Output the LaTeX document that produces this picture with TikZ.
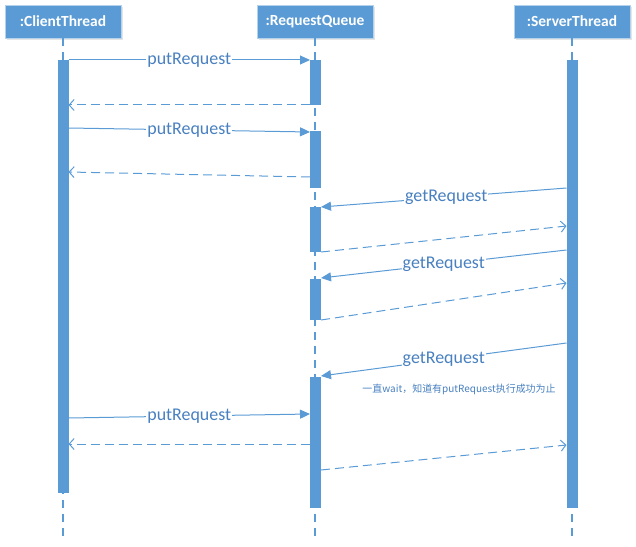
\documentclass[tikz,border=0pt]{standalone}
\usepackage{fontspec}
\setmainfont{Carlito}
\newfontfamily\cjk{Noto Sans CJK SC}
\usetikzlibrary{arrows.meta,positioning,shadows,calc}
\definecolor{qblue}{RGB}{91,155,213}
\definecolor{qtext}{RGB}{72,128,192}
\tikzset{
  obj/.style={draw=qblue!45, fill=qblue, text=white, font=\bfseries\fontsize{15.5}{17}\selectfont,
    minimum width=116bp, minimum height=33bp, inner sep=0pt,
    drop shadow={shadow xshift=2bp, shadow yshift=-2bp, opacity=0.25, fill=black!40}},
  act/.style={fill=qblue, draw=none, minimum width=11bp, inner sep=0pt},
  life/.style={draw=qblue, line width=1.2bp, dash pattern=on 8bp off 6bp},
  msg/.style={draw=qblue, line width=1bp, -{Triangle[length=10bp,width=9bp]}},
  ret/.style={draw=qblue, line width=1bp, dash pattern=on 9bp off 5bp,
    -{Straight Barb[length=5bp,width=11bp]}},
  mlbl/.style={fill=white, inner sep=1bp, text=qtext, font=\fontsize{18}{20}\selectfont},
  note/.style={text=qtext, font=\cjk\fontsize{10}{12}\selectfont, inner sep=0pt}
}

\begin{document}
\begin{tikzpicture}[x=1bp, y=-1bp]
    \useasboundingbox (0,0) rectangle (636,547);

    % objects
    \node[obj] (ct) at (63,21.5) {:ClientThread};
    \node[obj] (rq) at (315,21.5) {:RequestQueue};
    \node[obj] (st) at (572,21.5) {:ServerThread};

    % lifelines
    \coordinate (ctend) at (63,542);
    \coordinate (rqend) at (315,542);
    \coordinate (stend) at (572,542);
    \draw[life] (ct.south) -- (ctend);
    \draw[life] (rq.south) -- (rqend);
    \draw[life] (st.south) -- (stend);

    % activations
    \node[act, minimum height=433bp] (ca) at (63,276.5) {};
    \node[act, minimum height=448bp] (sa) at (572,284) {};
    \node[act, minimum height=45bp] (rq1) at (315.5,82.5) {};
    \node[act, minimum height=57bp] (rq2) at (315.5,159.5) {};
    \node[act, minimum height=45bp] (rq3) at (315.5,229.5) {};
    \node[act, minimum height=41bp] (rq4) at (315.5,299.5) {};
    \node[act, minimum height=131bp] (rq5) at (315.5,442.5) {};

    % message ends
    \coordinate (c1) at (68.5,60);    \coordinate (q1) at (310,60);
    \coordinate (q1r) at (310,105);   \coordinate (c1r) at (68.5,105);
    \coordinate (c2) at (68.5,128);   \coordinate (q2) at (310,132);
    \coordinate (q2r) at (310,177);   \coordinate (c2r) at (68.5,172);
    \coordinate (s3) at (566.5,188);  \coordinate (q3) at (321,207);
    \coordinate (q3r) at (321,252);   \coordinate (s3r) at (566.5,226);
    \coordinate (s4) at (566.5,250);  \coordinate (q4) at (321,278);
    \coordinate (q4r) at (321,320);   \coordinate (s4r) at (566.5,283);
    \coordinate (s5) at (566.5,343);  \coordinate (q5) at (321,376);
    \coordinate (c6) at (68.5,418);   \coordinate (q6) at (310,414);
    \coordinate (q6r) at (310,444);   \coordinate (c6r) at (68.5,444);
    \coordinate (q5r) at (321,470);   \coordinate (s5r) at (566.5,445);

    % messages
    \draw[msg] (c1) -- node[mlbl] (l1) {putRequest} (q1);
    \draw[ret] (q1r) -- (c1r);
    \draw[msg] (c2) -- node[mlbl] (l2) {putRequest} (q2);
    \draw[ret] (q2r) -- (c2r);
    \draw[msg] (s3) -- node[mlbl, pos=0.49] (l3) {getRequest} (q3);
    \draw[ret] (q3r) -- (s3r);
    \draw[msg] (s4) -- node[mlbl, pos=0.5] (l4) {getRequest} (q4);
    \draw[ret] (q4r) -- (s4r);
    \draw[msg] (s5) -- node[mlbl, pos=0.5] (l5) {getRequest} (q5);
    \node[note] (wait) at (459,389) {一直wait，知道有putRequest执行成功为止};
    \draw[msg] (c6) -- node[mlbl] (l6) {putRequest} (q6);
    \draw[ret] (q6r) -- (c6r);
    \draw[ret] (q5r) -- (s5r);
\end{tikzpicture}
\end{document}
